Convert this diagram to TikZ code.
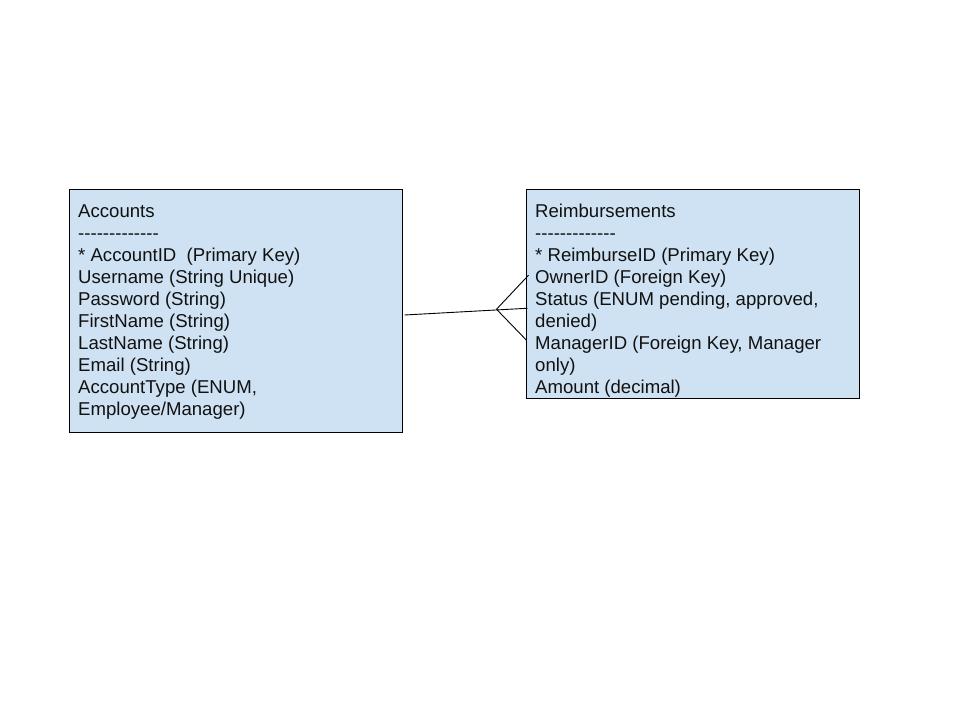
\documentclass[tikz,border=0pt]{standalone}
\usepackage{fontspec}
\setmainfont{Liberation Sans}[Ligatures=TeXOff]
\usetikzlibrary{calc}
\definecolor{tablefill}{HTML}{CFE2F3}
\definecolor{inktext}{HTML}{111111}
\begin{document}
\begin{tikzpicture}[x=1pt,y=-1pt,
  tablebox/.style={draw=black,line width=1pt,fill=tablefill,inner sep=0pt,
    minimum width=333pt},
  fieldlist/.style={anchor=north west,inner sep=0pt,align=left,text=inktext,
    font=\fontsize{18.6}{22}\selectfont},
  relation/.style={draw=black,line width=0.9pt}]
\useasboundingbox (0,0) rectangle (960,720);

% entity tables
\node[tablebox,minimum height=243pt] (acc) at (236,310.5) {};
\node[tablebox,minimum height=209.5pt] (reimb) at (693,293.75) {};

\node[fieldlist] (acctext) at (78,204) {Accounts\\
-------------\\
* AccountID\ \ (Primary Key)\\
Username (String Unique)\\
Password (String)\\
FirstName (String)\\
LastName (String)\\
Email (String)\\
AccountType (ENUM,\\
Employee/Manager)};

\node[fieldlist] (reimbtext) at (535,204) {Reimbursements\\
-------------\\
* ReimburseID (Primary Key)\\
OwnerID (Foreign Key)\\
Status (ENUM pending, approved,\\
denied)\\
ManagerID (Foreign Key, Manager\\
only)\\
Amount (decimal)};

% one-to-many relation with crow's foot at the Reimbursements end
\coordinate (relstart) at ($(acc.east)+(1.5,4.5)$);
\coordinate (relend) at ($(reimb.west)+(1.5,14.5)$);
\coordinate (fork) at ($(reimb.west)+(-29.5,15.5)$);
\coordinate (footup) at ($(reimb.west)+(2.5,-18.5)$);
\coordinate (footdown) at ($(reimb.west)+(0.5,46.5)$);
\draw[relation] (relstart) -- (relend);
\draw[relation] (footup) -- (fork) -- (footdown);
\end{tikzpicture}
\end{document}
